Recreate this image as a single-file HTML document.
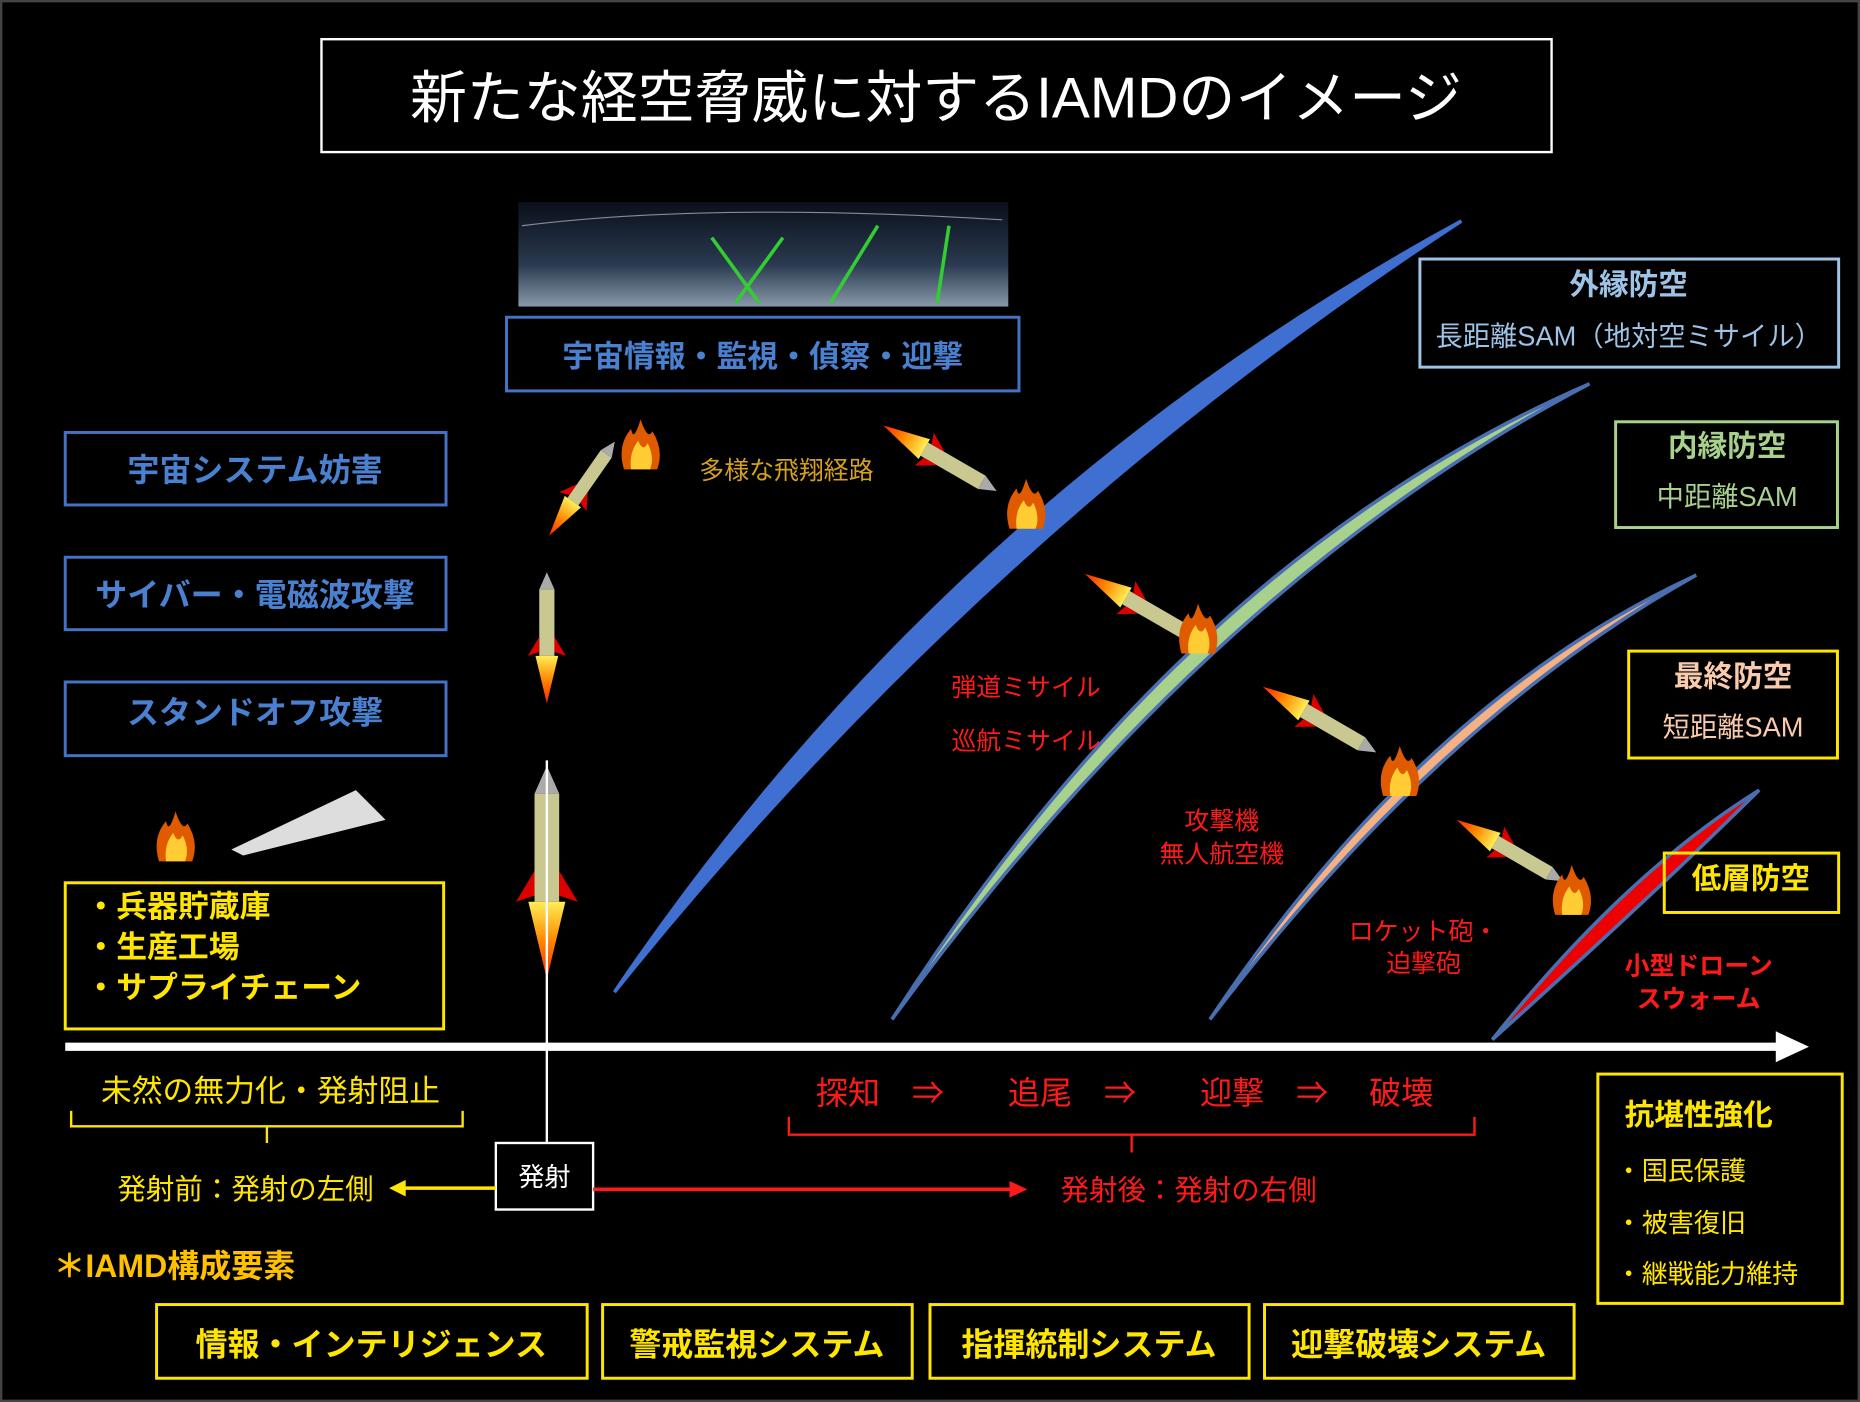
<!DOCTYPE html>
<html><head><meta charset="utf-8"><style>
html,body{margin:0;padding:0;background:#000;}
svg{display:block}
text{font-family:"Liberation Sans","Noto Sans CJK JP",sans-serif;}
</style></head><body>
<svg width="1860" height="1402" viewBox="0 0 1568 1180" preserveAspectRatio="none" xmlns="http://www.w3.org/2000/svg">
<defs>
<linearGradient id="sat" x1="0" y1="0" x2="0" y2="1"><stop offset="0" stop-color="#0a0f1a"/><stop offset="0.6" stop-color="#2a3a50"/><stop offset="1" stop-color="#8899aa"/></linearGradient>
<linearGradient id="flame" x1="0" y1="0" x2="0" y2="1"><stop offset="0" stop-color="#ffee55"/><stop offset="0.5" stop-color="#ff8800"/><stop offset="1" stop-color="#ff2200"/></linearGradient>
<g id="fire"><path d="M-14,20 Q-20,0 -8,-14 Q-6,-2 0,-22 Q6,-4 10,-12 Q20,4 14,20 Z" fill="#e05a00"/><path d="M-8,20 Q-10,6 -2,-4 Q2,6 6,-2 Q12,10 8,20 Z" fill="#ffcc33"/></g>
<g id="rocket"><path d="M-8,-40 L8,-40 L8,30 L-8,30 Z" fill="#c8c890"/><path d="M-8,-40 L0,-58 L8,-40 Z" fill="#aaa"/><path d="M-8,10 L-20,30 L-8,26 Z M8,10 L20,30 L8,26 Z" fill="#d00"/><path d="M-12,30 L12,30 L0,80 Z" fill="url(#flame)"/></g>
</defs>
<rect x="0" y="0" width="1568" height="1180" fill="#000"/>
<rect x="1" y="1" width="1566" height="1178" fill="none" stroke="#444" stroke-width="2"/>
<rect x="271" y="33" width="1037" height="95" fill="none" stroke="#fff" stroke-width="2"/>
<text x="789" y="99" fill="#fff" font-size="48" text-anchor="middle">新たな経空脅威に対するIAMDのイメージ</text>
<rect x="437" y="170" width="413" height="88" fill="url(#sat)"/>
<path d="M440,190 Q600,170 845,185" stroke="#889" fill="none"/>
<path d="M600,200 L640,255 M660,200 L620,255 M740,190 L700,255 M800,190 L790,255" stroke="#3c3" stroke-width="3" fill="none"/>
<rect x="427" y="267" width="432" height="62" fill="none" stroke="#4472c4" stroke-width="2.5"/>
<text x="643" y="309" fill="#4a80d0" font-size="26" font-weight="bold" text-anchor="middle">宇宙情報・監視・偵察・迎撃</text>
<g fill="none" stroke="#4472c4" stroke-width="2.5">
<rect x="55" y="364" width="321" height="61"/><rect x="55" y="469" width="321" height="61"/><rect x="55" y="574" width="321" height="62"/></g>
<g fill="#4a80d0" font-size="27" font-weight="bold" text-anchor="middle">
<text x="215" y="405">宇宙システム妨害</text><text x="215" y="510">サイバー・電磁波攻撃</text><text x="215" y="609">スタンドオフ攻撃</text></g>
<rect x="55" y="743" width="319" height="123" fill="none" stroke="#ffe600" stroke-width="2.5"/>
<g fill="#ffe600" font-size="26" font-weight="bold"><text x="72" y="772">・兵器貯蔵庫</text><text x="72" y="806">・生産工場</text><text x="72" y="840">・サプライチェーン</text></g>
<path d="M195,715 L300,665 L325,690 L205,720 Z" fill="#ddd"/>
<use href="#fire" x="148" y="705"/>
<!-- arcs -->
<path d="M518,835 Q800,420 1232,186 Q827,450 518,835 Z" fill="#3f6fd0" stroke="#3f6fd0" stroke-width="3"/>
<path d="M752,858 Q1000,470 1340,323 Q1019,491 752,858 Z" fill="#a9d18e" stroke="#4a6fb0" stroke-width="3"/>
<path d="M1020,858 Q1200,590 1430,484 Q1213,605 1020,858 Z" fill="#f4b183" stroke="#4a6fb0" stroke-width="3"/>
<path d="M1258,875 Q1370,735 1483,665 Q1390,757 1258,875 Z" fill="#ee0000" stroke="#4a6fb0" stroke-width="3"/>
<rect x="1197" y="218" width="353" height="91" fill="none" stroke="#9dc3e6" stroke-width="2.5"/>
<text x="1373" y="248" fill="#9dc3e6" font-size="25" font-weight="bold" text-anchor="middle">外縁防空</text>
<text x="1373" y="291" fill="#9dc3e6" font-size="23" text-anchor="middle">長距離SAM（地対空ミサイル）</text>
<rect x="1362" y="355" width="187" height="89" fill="none" stroke="#a9d18e" stroke-width="2.5"/>
<text x="1456" y="384" fill="#a9d18e" font-size="25" font-weight="bold" text-anchor="middle">内縁防空</text>
<text x="1456" y="426" fill="#a9d18e" font-size="23" text-anchor="middle">中距離SAM</text>
<rect x="1373" y="548" width="176" height="90" fill="none" stroke="#ffe600" stroke-width="2.5"/>
<text x="1461" y="578" fill="#f8cbad" font-size="25" font-weight="bold" text-anchor="middle">最終防空</text>
<text x="1461" y="620" fill="#f8cbad" font-size="23" text-anchor="middle">短距離SAM</text>
<rect x="1403" y="718" width="147" height="50" fill="none" stroke="#ffe600" stroke-width="2.5"/>
<text x="1476" y="748" fill="#ffe600" font-size="25" font-weight="bold" text-anchor="middle">低層防空</text>
<!-- missiles -->
<use href="#rocket" transform="translate(461,720) scale(1.3)"/>
<use href="#rocket" transform="translate(461,528) scale(0.8)"/>
<use href="#rocket" transform="translate(495,405) rotate(35) scale(0.7)"/>
<use href="#rocket" transform="translate(800,390) rotate(120) scale(0.8)"/>
<use href="#rocket" transform="translate(970,515) rotate(120) scale(0.8)"/>
<use href="#rocket" transform="translate(1120,610) rotate(120) scale(0.8)"/>
<use href="#rocket" transform="translate(1280,720) rotate(120) scale(0.75)"/>
<use href="#fire" x="540" y="375"/><use href="#fire" x="865" y="425"/><use href="#fire" x="1010" y="530"/><use href="#fire" x="1180" y="650"/><use href="#fire" x="1325" y="750"/>
<text x="663" y="403" fill="#d4a020" font-size="21" text-anchor="middle">多様な飛翔経路</text>
<g fill="#ff1a1a" font-size="21" text-anchor="middle">
<text x="865" y="586">弾道ミサイル</text><text x="865" y="631">巡航ミサイル</text>
<text x="1030" y="698">攻撃機</text><text x="1030" y="726">無人航空機</text>
<text x="1200" y="791">ロケット砲・</text><text x="1200" y="818">迫撃砲</text>
<text x="1432" y="820" font-weight="bold">小型ドローン</text><text x="1432" y="848" font-weight="bold">スウォーム</text></g>
<!-- axis -->
<line x1="55" y1="881" x2="1500" y2="881" stroke="#fff" stroke-width="7"/>
<path d="M1497,868 L1525,881 L1497,894 Z" fill="#fff"/>
<line x1="461" y1="640" x2="461" y2="962" stroke="#fff" stroke-width="2"/>
<text x="228" y="927" fill="#ffe600" font-size="26" text-anchor="middle">未然の無力化・発射阻止</text>
<path d="M60,935 L60,948 L225,948 L225,962 M225,948 L390,948 L390,935" fill="none" stroke="#ffe600" stroke-width="2"/>
<text x="948" y="929" fill="#ff1a1a" font-size="27" text-anchor="middle" xml:space="preserve">探知　⇒　　追尾　⇒　　迎撃　⇒　 破壊</text>
<path d="M665,940 L665,955 L954,955 L954,970 M954,955 L1243,955 L1243,940" fill="none" stroke="#ff1a1a" stroke-width="2"/>
<rect x="418" y="962" width="82" height="56" fill="#000" stroke="#fff" stroke-width="2"/>
<text x="459" y="998" fill="#fff" font-size="22" text-anchor="middle">発射</text>
<text x="207" y="1009" fill="#ffe600" font-size="24" text-anchor="middle">発射前：発射の左側</text>
<line x1="418" y1="1000" x2="340" y2="1000" stroke="#ffe600" stroke-width="3"/><path d="M342,993 L328,1000 L342,1007 Z" fill="#ffe600"/>
<line x1="500" y1="1001" x2="853" y2="1001" stroke="#ff1a1a" stroke-width="3"/><path d="M851,994 L866,1001 L851,1008 Z" fill="#ff1a1a"/>
<text x="1002" y="1010" fill="#ff1a1a" font-size="24" text-anchor="middle">発射後：発射の右側</text>
<text x="45" y="1075" fill="#ffc000" font-size="27" font-weight="bold">＊IAMD構成要素</text>
<g fill="none" stroke="#ffe600" stroke-width="2.5">
<rect x="132" y="1098" width="363" height="62"/><rect x="508" y="1098" width="261" height="62"/><rect x="784" y="1098" width="269" height="62"/><rect x="1066" y="1098" width="261" height="62"/>
<rect x="1347" y="904" width="206" height="193"/></g>
<g fill="#ffe600" font-size="27" font-weight="bold" text-anchor="middle">
<text x="313" y="1141">情報・インテリジェンス</text><text x="638" y="1141">警戒監視システム</text><text x="918" y="1141">指揮統制システム</text><text x="1196" y="1141">迎撃破壊システム</text></g>
<text x="1432" y="947" fill="#ffe600" font-size="25" font-weight="bold" text-anchor="middle">抗堪性強化</text>
<g fill="#ffe600" font-size="22"><text x="1362" y="993">・国民保護</text><text x="1362" y="1037">・被害復旧</text><text x="1362" y="1080">・継戦能力維持</text></g>
</svg>
</body></html>
